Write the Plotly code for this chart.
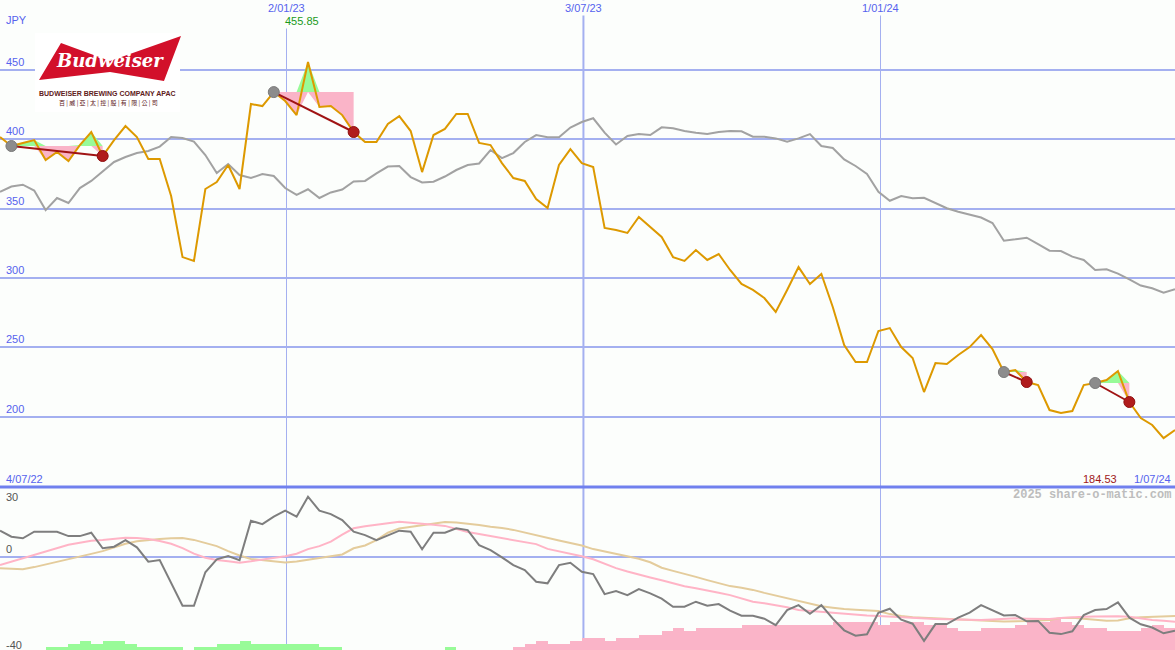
import pandas as pd
import plotly.graph_objects as go

# ---------------- data (weekly) ----------------
price = [401.7, 395.2, 397.4, 399.5, 385.1, 390.9, 384.4, 395.9, 405.3, 388.0,
         399.5, 409.6, 401.7, 385.8, 385.8, 359.1, 315.1, 312.3, 364.2, 369.2,
         381.5, 364.2, 425.5, 424.0, 434.1, 427.6, 417.5, 455.85, 423.3, 424.0,
         417.5, 405.3, 398.1, 398.1, 411.1, 416.8, 406.0, 376.4, 403.1, 407.5,
         418.3, 418.3, 397.4, 395.9, 382.9, 372.1, 370.0, 357.0, 350.5, 381.5,
         393.0, 382.9, 380.0, 336.1, 334.6, 332.5, 344.0, 336.8, 329.6, 315.1,
         312.3, 320.2, 313.0, 317.3, 305.8, 295.7, 291.4, 285.6, 275.5, 291.4,
         307.9, 295.7, 302.9, 279.1, 251.7, 239.4, 239.4, 261.8, 263.9, 250.2,
         242.3, 217.8, 238.7, 238.0, 244.5, 250.2, 258.9, 248.8, 232.2, 233.7,
         225.0, 222.8, 204.8, 202.7, 204.1, 222.8, 224.3, 226.4, 232.9, 210.6,
         199.0, 194.0, 184.53, 190.4]

relative = [362.2, 366.0, 367.3, 363.1, 349.0, 357.7, 354.1, 364.9, 370.0, 377.2,
            383.7, 387.3, 390.1, 391.6, 394.8, 401.7, 401.0, 398.4, 388.7, 375.7,
            382.2, 374.3, 372.1, 375.0, 373.6, 364.9, 359.9, 364.0, 357.7, 361.7,
            363.8, 369.6, 370.0, 375.4, 380.4, 380.8, 372.8, 368.9, 369.5, 373.2,
            377.9, 381.5, 382.6, 392.3, 386.5, 390.1, 398.1, 403.1, 401.5, 401.5,
            408.5, 412.5, 415.2, 404.9, 396.3, 402.4, 403.8, 403.1, 408.7, 408.0,
            406.0, 404.8, 403.8, 405.3, 406.0, 405.8, 401.9, 401.9, 400.7, 398.3,
            400.7, 403.8, 395.2, 393.8, 385.5, 380.8, 375.0, 362.2, 355.7, 359.1,
            357.5, 357.9, 354.1, 350.3, 347.8, 345.9, 343.6, 339.7, 326.9, 327.9,
            329.1, 324.5, 319.7, 319.5, 315.4, 313.0, 305.8, 306.3, 303.2, 299.1,
            294.6, 292.6, 289.4, 291.9]

oscillator = [13, 10, 9.2, 12.5, 12.5, 12.5, 10.3, 10.3, 12, 4.2,
              5, 8.3, 4.7, -2.5, -1.7, -13.5, -24.5, -24.5, -7.8, -1.3,
              0.3, -1.7, 18, 16.3, 20, 23, 20, 30, 23, 21.3,
              18.3, 12.5, 10.8, 8.3, 10.8, 13, 12.5, 3.7, 12, 12,
              14.2, 13.3, 5.8, 3.3, -0.3, -4.2, -6.7, -12.5, -13.3, -4.2,
              -3, -7.5, -8.7, -18.7, -17.2, -19.2, -16.2, -18.3, -21.0, -25,
              -25, -22.5, -24.5, -23.7, -27, -29.5, -29.5, -31.0, -34.2, -26.7,
              -24.2, -28.5, -24.2, -31.0, -36.8, -39.5, -38.8, -28.0, -26.0, -31.5,
              -33.5, -42.1, -33.7, -33.7, -30.5, -28.0, -24.2, -26.8, -29.4, -29.2,
              -32.3, -32.1, -38, -38.7, -37.3, -29.2, -26.7, -26.2, -22.8, -30.5,
              -33.8, -35.4, -38.3, -37]

ma_fast = [-4.2, -2.5, -0.8, 0.9, 2.6, 4.4, 6.0, 7.0, 8.0, 8.4,
           8.9, 9.5, 9.3, 8.8, 7.8, 6.5, 4.3, 1.5, -0.5, -1.6,
           -2.3, -3.0, -2.3, -1.5, -0.7, 0.2, 1.5, 3.8, 5.3, 7.5,
           11.0, 14.2, 15.2, 16.1, 16.7, 17.5, 17.1, 16.6, 16.0, 15.4,
           13.9, 12.4, 11.3, 10.3, 9.3, 8.3, 7.3, 6.3, 3.9, 2.7,
           1.6, 0.2, -1.3, -3.5, -5.7, -7.4, -9.0, -10.4, -11.8, -13.3,
           -14.8, -15.8, -16.8, -18.0, -19.2, -20.8, -22.5, -23.3, -24.2, -25.3,
           -26.6, -27.1, -27.6, -28.1, -28.6, -29.0, -29.4, -29.7, -30.0, -30.4,
           -30.8, -31.0, -31.1, -31.3, -31.4, -31.6, -31.7, -31.4, -31.0, -30.8,
           -31.0, -31.2, -31.2, -30.7, -30.3, -30.0, -29.9, -29.8, -29.8, -30.0,
           -30.9, -31.6, -32.0, -32.5]

ma_slow = [-5.8, -6.0, -6.3, -5.2, -3.9, -2.7, -1.5, -0.1, 1.4, 2.8,
           4.5, 6.5, 7.7, 8.4, 8.8, 9.2, 9.3, 8.4, 7.0, 5.3,
           2.8, 0.6, -1.1, -1.7, -2.3, -2.9, -2.4, -1.6, -0.8, 0.2,
           1.1, 4.2, 5.6, 8.3, 12.0, 14.1, 14.9, 15.7, 16.6, 17.4,
           17.1, 16.6, 15.8, 15.0, 14.4, 13.4, 12.0, 10.6, 9.3, 8.1,
           6.8, 5.6, 3.8, 2.6, 1.5, 0.4, -1.0, -2.8, -5.5, -7.1,
           -8.5, -10.1, -11.7, -13.2, -14.7, -15.5, -16.6, -18.1, -19.5, -20.9,
           -22.3, -23.6, -24.8, -25.5, -26.2, -26.5, -26.8, -27.2, -28.7, -29.7,
           -30.3, -30.6, -31.0, -31.3, -31.5, -31.8, -32.0, -32.2, -32.4, -32.4,
           -32.2, -31.9, -31.6, -30.7, -30.5, -31.0, -31.6, -32.0, -31.9, -30.8,
           -30.3, -30.0, -29.8, -29.7]

# trend strength bars (positive = green, negative = pink)
trend_bars = [0, 0, 0, 0, 1, 1, 2, 3, 2, 3,
              3, 2, 1, 1, 1, 1, 0, 1, 1, 2,
              2, 3, 2, 2, 2, 2, 2, 2, 1, 1,
              0, 0, 0, 0, 0, 0, 0, 0, 0, 1,
              0, 0, 0, 0, 0, -1, -2, -3, -2, -2,
              -3, -4, -4, -3, -4, -4, -5, -5, -6, -7,
              -6, -7, -7, -7, -7, -8, -8, -8, -8, -8,
              -8, -8, -8, -9, -9, -9, -9, -8, -9, -9,
              -9, -8, -8, -7, -6, -6, -7, -7, -7, -8,
              -9, -9, -10, -9, -8, -7, -7, -6, -6, -6,
              -7, -8, -7, -7]

trade_entries = [1, 24, 88, 96]
trade_exits = [9, 31, 90, 99]

date_ticks = ["2023-01-02", "2023-07-03", "2024-01-01"]
date_tick_labels = ["2/01/23", "3/07/23", "1/01/24"]
price_ticks = [200, 250, 300, 350, 400, 450]
osc_labels = [30, 0, -40]
start_label, end_label = "4/07/22", "1/07/24"
high_label, low_label = "455.85", "184.53"

dates = pd.date_range("2022-07-10", periods=len(price), freq="7D")

# ---------------- styling ----------------
W, H = 1175, 650
BG = "#fcfefc"
GRID = "#a4b0f0"
BLUE_TXT = "#5662ee"
SPLIT = 163 / H
MAIN_RANGE = [149.3, 500.5]
LOW_RANGE = [-46.65, 34.85]
BAR_UNIT = 1.55
WEEK_MS = 7 * 24 * 3600 * 1000
GREEN_FILL = "#98fb98"
PINK_FILL = "#fab4c8"

fig = go.Figure()

# trade shading
for e, x in zip(trade_entries, trade_exits):
    seg_d = dates[e:x + 1]
    seg_p = price[e:x + 1]
    lvl = price[e]
    up = [max(p, lvl) for p in seg_p]
    dn = [min(p, lvl) for p in seg_p]
    for arr, col in ((up, GREEN_FILL), (dn, PINK_FILL)):
        fig.add_trace(go.Scatter(x=seg_d, y=[lvl] * len(seg_d), mode="lines",
                                 line=dict(width=0), hoverinfo="skip"))
        fig.add_trace(go.Scatter(x=seg_d, y=arr, mode="lines", line=dict(width=0),
                                 fill="tonexty", fillcolor=col, hoverinfo="skip"))

fig.add_trace(go.Scatter(x=dates, y=relative, mode="lines",
                         line=dict(color="#a2a2a2", width=2)))
fig.add_trace(go.Scatter(x=dates, y=price, mode="lines",
                         line=dict(color="#dd9900", width=2)))

for e, x in zip(trade_entries, trade_exits):
    fig.add_trace(go.Scatter(x=[dates[e], dates[x]], y=[price[e], price[x]], mode="lines",
                             line=dict(color="#a01414", width=2)))
fig.add_trace(go.Scatter(x=[dates[i] for i in trade_entries], y=[price[i] for i in trade_entries],
                         mode="markers", marker=dict(color="#8c8c8c", size=11,
                                                     line=dict(color="#7a7a7a", width=1))))
fig.add_trace(go.Scatter(x=[dates[i] for i in trade_exits], y=[price[i] for i in trade_exits],
                         mode="markers", marker=dict(color="#b01c1c", size=11,
                                                     line=dict(color="#901010", width=1))))

# lower panel
fig.add_trace(go.Bar(x=dates, y=[abs(v) * BAR_UNIT for v in trend_bars], base=LOW_RANGE[0],
                     width=WEEK_MS, offset=0,
                     marker=dict(color=[GREEN_FILL if v > 0 else PINK_FILL for v in trend_bars],
                                 line=dict(width=0)),
                     xaxis="x2", yaxis="y2"))
fig.add_trace(go.Scatter(x=dates, y=ma_slow, mode="lines", line=dict(color="#e4cc9c", width=2),
                         xaxis="x2", yaxis="y2"))
fig.add_trace(go.Scatter(x=dates, y=ma_fast, mode="lines", line=dict(color="#ffb4c6", width=2),
                         xaxis="x2", yaxis="y2"))
fig.add_trace(go.Scatter(x=dates, y=oscillator, mode="lines", line=dict(color="#7e7e7e", width=2),
                         xaxis="x2", yaxis="y2"))

xcommon = dict(type="date", range=[dates[0], dates[-1]], tickvals=date_ticks, showgrid=True,
               gridcolor=GRID, gridwidth=1, showticklabels=False, zeroline=False,
               showline=False, ticks="")

shapes = []
# thicker mid-year line
shapes.append(dict(type="line", xref="x", yref="paper", x0=date_ticks[1], x1=date_ticks[1],
                   y0=0, y1=1, line=dict(color=GRID, width=2), layer="below"))
# panel separator
shapes.append(dict(type="line", xref="paper", yref="paper", x0=0, x1=1, y0=SPLIT, y1=SPLIT,
                   line=dict(color="#7080ee", width=3)))


def px_path(pts):
    return "M " + " L ".join(f"{px / W:.5f},{1 - py / H:.5f}" for px, py in pts) + " Z"


# logo
shapes.append(dict(type="rect", xref="paper", yref="paper", x0=35 / W, x1=180 / W,
                   y0=1 - 112 / H, y1=1 - 33 / H, fillcolor="white", line=dict(width=0)))
shapes.append(dict(type="path", xref="paper", yref="paper",
                   path=px_path([(39, 80), (61, 43), (110, 61), (181, 36), (164, 81), (110, 72)]),
                   fillcolor="#d2102a", line=dict(width=0)))

ann = []
mono = "Liberation Sans"
ann.append(dict(text="JPY", x=4 / W, y=1 - 20 / H, xref="paper", yref="paper",
                xanchor="left", yanchor="middle", showarrow=False,
                font=dict(family=mono, size=11, color=BLUE_TXT)))
for v in price_ticks:
    ann.append(dict(text=str(v), x=4 / W, y=v, xref="paper", yref="y", xanchor="left",
                    yanchor="bottom", showarrow=False, font=dict(family=mono, size=11, color=BLUE_TXT)))
for v, anc in zip(osc_labels, ["middle", "bottom", "top"]):
    ann.append(dict(text=str(v), x=4 / W, y=v, xref="paper", yref="y2", xanchor="left",
                    yanchor=anc, showarrow=False, font=dict(family=mono, size=11, color="#555555")))
for d, lab in zip(date_ticks, date_tick_labels):
    ann.append(dict(text=lab, x=d, y=1 - 8 / H, xref="x", yref="paper", xanchor="center",
                    yanchor="middle", showarrow=False, bgcolor=BG, borderpad=1,
                    font=dict(family=mono, size=11, color=BLUE_TXT)))
imax = price.index(max(price))
ann.append(dict(text=high_label, x=dates[imax], y=1 - 21 / H, xref="x", yref="paper",
                xanchor="center", xshift=-6, yanchor="middle", showarrow=False, bgcolor=BG,
                font=dict(family=mono, size=11, color="#1a9a1a")))
ann.append(dict(text=start_label, x=4 / W, y=1 - 479 / H, xref="paper", yref="paper",
                xanchor="left", yanchor="middle", showarrow=False,
                font=dict(family=mono, size=11, color=BLUE_TXT)))
ann.append(dict(text=end_label, x=1173 / W, y=1 - 479 / H, xref="paper", yref="paper",
                xanchor="right", yanchor="middle", showarrow=False,
                font=dict(family=mono, size=11, color=BLUE_TXT)))
ann.append(dict(text=low_label, x=1119 / W, y=1 - 479 / H, xref="paper", yref="paper",
                xanchor="right", yanchor="middle", showarrow=False,
                font=dict(family=mono, size=11, color="#a01818")))
ann.append(dict(text="2025 share-o-matic.com", x=1173 / W, y=1 - 495 / H, xref="paper",
                yref="paper", xanchor="right", yanchor="middle", showarrow=False,
                font=dict(family="Liberation Mono", size=12, color="#bdbdbd", weight="bold")))
# logo texts
ann.append(dict(text="Budweiser", x=110 / W, y=1 - 61 / H, xref="paper", yref="paper",
                xanchor="center", yanchor="middle", showarrow=False,
                font=dict(family="DejaVu Serif", size=18, color="white", style="italic",
                          weight="bold")))
ann.append(dict(text="BUDWEISER BREWING COMPANY APAC", x=107 / W, y=1 - 93 / H, xref="paper",
                yref="paper", xanchor="center", yanchor="middle", showarrow=False,
                font=dict(family="Liberation Sans", size=7, color="#5e2020", weight="bold")))
ann.append(dict(text="百 | 威 | 亞 | 太 | 控 | 股 | 有 | 限 | 公 | 司", x=108 / W, y=1 - 102 / H,
                xref="paper", yref="paper", xanchor="center", yanchor="middle", showarrow=False,
                font=dict(family="Noto Sans CJK TC", size=6, color="#5e2020")))

fig.update_layout(
    width=W, height=H, margin=dict(l=0, r=0, t=0, b=0),
    paper_bgcolor=BG, plot_bgcolor=BG, showlegend=False, bargap=0, hovermode=False,
    xaxis=dict(**xcommon, anchor="y", domain=[0, 1]),
    xaxis2=dict(**xcommon, anchor="y2", domain=[0, 1], matches="x"),
    yaxis=dict(domain=[SPLIT, 1], range=MAIN_RANGE, tickvals=price_ticks, showgrid=True,
               gridcolor=GRID, gridwidth=2, showticklabels=False, zeroline=False, ticks=""),
    yaxis2=dict(domain=[0, SPLIT], range=LOW_RANGE, tickvals=[0], showgrid=True,
                gridcolor=GRID, gridwidth=2, showticklabels=False, zeroline=False, ticks=""),
    shapes=shapes, annotations=ann,
)

fig.write_html("out.html", config={"displayModeBar": False, "staticPlot": True},
               post_script="document.body.style.margin='0';document.body.style.overflow='hidden';")
